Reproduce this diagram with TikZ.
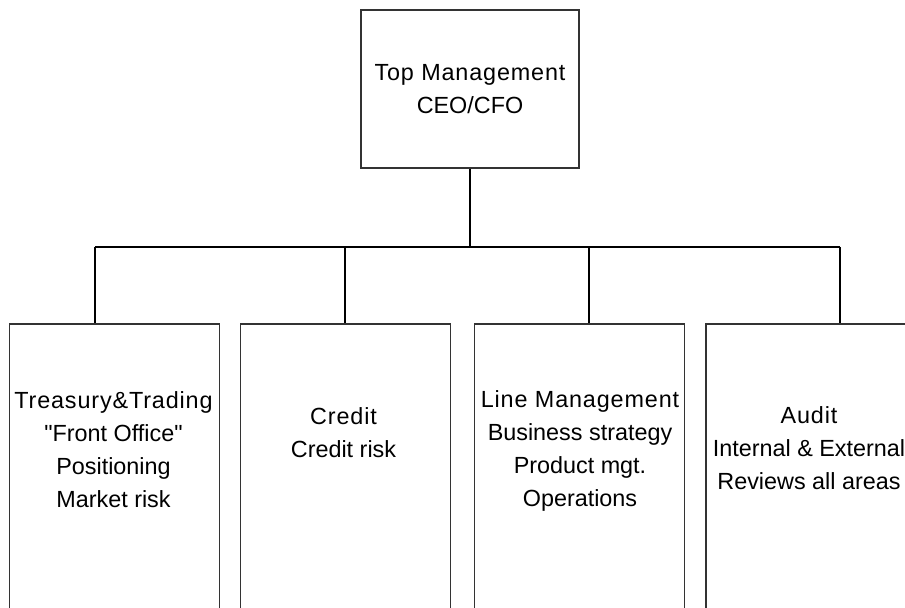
\documentclass[tikz,border=0pt]{standalone}
\usepackage{fontspec}
\setmainfont{Liberation Sans}[Ligatures=TeXOff]
\usepackage{tikz}
\usetikzlibrary{positioning}
\newcommand\headln[1]{{\addfontfeature{LetterSpace=3.7}#1}}

\begin{document}
\begin{tikzpicture}[
  every node/.style={font=\fontsize{13.3}{18.8}\selectfont,align=center},
  topbox/.style={rectangle,draw=black!80,line width=0.6pt,minimum width=4.36cm,
                 minimum height=3.16cm,inner sep=0pt},
  unit/.style  ={rectangle,draw=black!80,line width=0.6pt,minimum width=4.2cm,
                 minimum height=6.2cm,inner sep=0pt},
  txt/.style   ={inner sep=0pt},
  link/.style  ={black,line width=0.6pt},
]
\clip (0,0) rectangle (18.1,12.16);

\node[topbox] at (9.40, 10.38) (top)    {\headln{Top Management}\\CEO/CFO};

\node[unit]   at (2.29,  2.58) (treas)  {};
\node[unit]   at (6.91,  2.58) (credit) {};
\node[unit]   at (11.59, 2.58) (line)   {};
\node[unit]   at (16.22, 2.58) (audit)  {};

\node[txt] at (2.27,  3.16) (treasT)  {\headln{Treasury\&Trading}\\"Front Office"\\Positioning\\Market risk};
\node[txt] at (6.87,  3.51) (creditT) {\headln{Credit}\\Credit risk};
\node[txt] at (11.60, 3.14) (lineT)   {\headln{Line Management}\\Business strategy\\Product mgt.\\Operations};
\node[txt] at (16.18, 3.20) (auditT)  {\headln{Audit}\\Internal \& External\\Reviews all areas};

\coordinate (b1) at (1.90,  7.22);
\coordinate (b2) at (6.90,  7.22);
\coordinate (b3) at (11.78, 7.22);
\coordinate (b4) at (16.80, 7.22);

\draw[link] (top.south) -- (top.south |- b1);
\draw[link] (b1) -- (b4);
\draw[link] (b1) -- (b1 |- treas.north);
\draw[link] (b2) -- (b2 |- credit.north);
\draw[link] (b3) -- (b3 |- line.north);
\draw[link] (b4) -- (b4 |- audit.north);
\end{tikzpicture}
\end{document}
